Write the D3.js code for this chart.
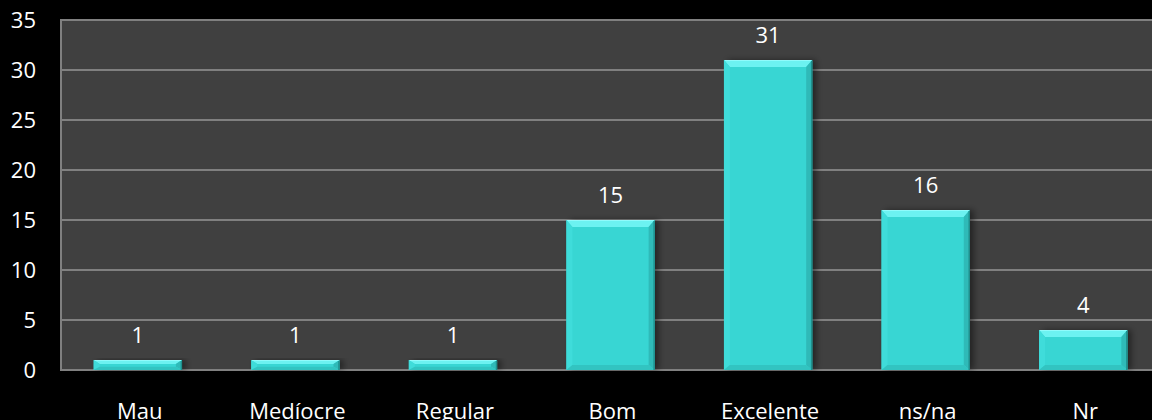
<!DOCTYPE html>
<html>
<head>
<meta charset="utf-8">
<script src="https://cdn.jsdelivr.net/npm/d3@7"></script>
<style>
  html, body { margin: 0; padding: 0; background: #000; }
  svg { display: block; }
  text { font-family: "Open Sans", "Noto Sans", sans-serif; fill: #fff; }
</style>
</head>
<body>
<svg id="chart" width="1152" height="420"></svg>
<script>
const categories = ["Mau", "Medíocre", "Regular", "Bom", "Excelente", "ns/na", "Nr"];
const values = [1, 1, 1, 15, 31, 16, 4];
const yTicks = [0, 5, 10, 15, 20, 25, 30, 35];

const svg = d3.select("#chart");
const W = 1152, H = 420;
const plotLeft = 61, plotTop = 20, plotBottom = 370;

svg.append("rect").attr("width", W).attr("height", H).attr("fill", "#000");

const x = d3.scaleBand().domain(categories).range([59, 1162])
  .paddingInner(0.44).paddingOuter(0.22);
const y = d3.scaleLinear().domain([0, 35]).range([plotBottom, plotTop]);

// plot area
svg.append("rect")
  .attr("x", plotLeft).attr("y", plotTop)
  .attr("width", W - plotLeft + 5).attr("height", plotBottom - plotTop)
  .attr("fill", "#404040");

// gridlines
svg.append("g").selectAll("line").data(yTicks).join("line")
  .attr("x1", plotLeft).attr("x2", W)
  .attr("y1", d => y(d)).attr("y2", d => y(d))
  .attr("stroke", "#808080").attr("stroke-width", 2);
svg.append("line").attr("x1", plotLeft).attr("x2", plotLeft)
  .attr("y1", plotTop - 1).attr("y2", plotBottom + 1)
  .attr("stroke", "#808080").attr("stroke-width", 2);

// y axis labels via d3 axis
const yAxis = d3.axisLeft(y).tickValues(yTicks).tickSize(0).tickPadding(0);
const gy = svg.append("g").attr("transform", "translate(36,0)").call(yAxis);
gy.select(".domain").remove();
gy.selectAll("text").attr("font-size", 22).attr("fill", "#fff")
  .attr("font-family", "'Open Sans', sans-serif");

// x axis labels
const xAxis = d3.axisBottom(x).tickSize(0).tickPadding(0);
const gx = svg.append("g").attr("transform", "translate(2,0)").call(xAxis);
gx.select(".domain").remove();
gx.selectAll("text").attr("font-size", 22).attr("fill", "#fff")
  .attr("font-family", "'Open Sans', sans-serif")
  .attr("dy", null).attr("y", 418.5);

// defs
const defs = svg.append("defs");
const f = defs.append("filter").attr("id", "shadow").attr("x", "-20%").attr("y", "-20%")
  .attr("width", "140%").attr("height", "140%");
f.append("feGaussianBlur").attr("in", "SourceAlpha").attr("stdDeviation", 3);
f.append("feOffset").attr("dx", 4).attr("dy", 0).attr("result", "b");
f.append("feComponentTransfer").append("feFuncA").attr("type", "linear").attr("slope", 0.45);
const m = f.append("feMerge");
m.append("feMergeNode");

// bars
const bars = svg.append("g").selectAll("g").data(categories).join("g");
const bw = x.bandwidth();
bars.each(function(c, i) {
  const g = d3.select(this);
  const x0 = x(c), x1 = x0 + bw;
  const y0 = y(values[i]), y1 = y(0);
  const h = y1 - y0;
  const t = Math.min(7, h / 2.5), s = Math.min(6, bw / 4), b = Math.min(5, h / 3);
  // shadow
  g.append("rect").attr("x", x0).attr("y", y0).attr("width", bw).attr("height", h)
    .attr("fill", "#000").attr("filter", "url(#shadow)");
  // face
  g.append("rect").attr("x", x0).attr("y", y0).attr("width", bw).attr("height", h).attr("fill", "#38d6d3");
  // top bevel
  g.append("polygon").attr("points", [[x0, y0], [x1, y0], [x1 - s, y0 + t], [x0 + s, y0 + t]].join(" "))
    .attr("fill", "#6cf2f1");
  // left bevel
  g.append("polygon").attr("points", [[x0, y0], [x0 + s, y0 + t], [x0 + s, y1 - b], [x0, y1]].join(" "))
    .attr("fill", "#3fdcda");
  // right bevel
  g.append("polygon").attr("points", [[x1, y0], [x1 - s, y0 + t], [x1 - s, y1 - b], [x1, y1]].join(" "))
    .attr("fill", "#2fbab8");
  // bottom bevel
  g.append("polygon").attr("points", [[x0, y1], [x0 + s, y1 - b], [x1 - s, y1 - b], [x1, y1]].join(" "))
    .attr("fill", "#32c4c1");
  // dark right edge
  g.append("line").attr("x1", x1 - 0.5).attr("x2", x1 - 0.5).attr("y1", y0 + 1).attr("y2", y1)
    .attr("stroke", "#1f8f8d").attr("stroke-width", 1.5);
  // top highlight
  g.append("line").attr("x1", x0 + 1).attr("x2", x1 - 1).attr("y1", y0 + 0.5).attr("y2", y0 + 0.5)
    .attr("stroke", "#8ffbfb").attr("stroke-width", 1);
});

// value labels
svg.append("g").selectAll("text").data(categories).join("text")
  .attr("x", c => x(c) + bw / 2)
  .attr("y", (c, i) => y(values[i]) - 17)
  .attr("text-anchor", "middle")
  .attr("font-size", 22)
  .text((c, i) => values[i]);
</script>
</body>
</html>
